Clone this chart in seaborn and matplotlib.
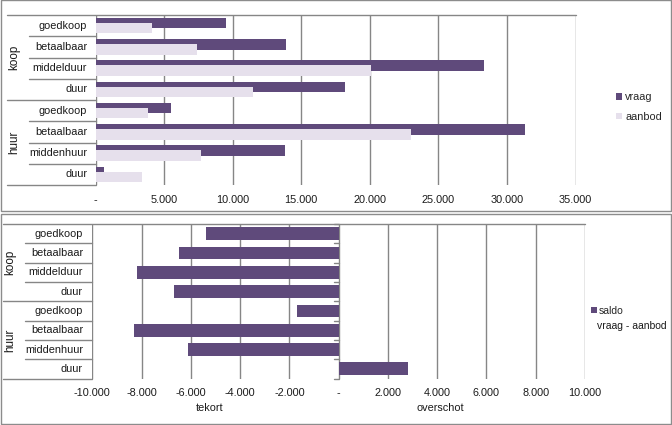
import matplotlib
matplotlib.use("Agg")
import matplotlib.pyplot as plt
import seaborn as sns
import pandas as pd
from matplotlib.lines import Line2D
from matplotlib.patches import Rectangle

# ---------------- data ----------------
groups = ["koop", "huur"]
categories = ["goedkoop", "betaalbaar", "middelduur", "duur",
              "goedkoop", "betaalbaar", "middenhuur", "duur"]
cat_keys = ["koop goedkoop", "koop betaalbaar", "koop middelduur", "koop duur",
            "huur goedkoop", "huur betaalbaar", "huur middenhuur", "huur duur"]
vraag = [9500, 13900, 28300, 18200, 5500, 31300, 13800, 600]
aanbod = [4100, 7400, 20100, 11500, 3800, 23000, 7700, 3400]
saldo = [-5400, -6500, -8200, -6700, -1700, -8300, -6100, 2800]
series_names = ["vraag", "aanbod"]
saldo_name = ["saldo", "vraag - aanbod"]
top_ticks = [0, 5000, 10000, 15000, 20000, 25000, 30000, 35000]
top_ticklabels = ["-", "5.000", "10.000", "15.000", "20.000", "25.000", "30.000", "35.000"]
bot_ticks = [-10000, -8000, -6000, -4000, -2000, 0, 2000, 4000, 6000, 8000, 10000]
bot_ticklabels = ["-10.000", "-8.000", "-6.000", "-4.000", "-2.000", "-",
                  "2.000", "4.000", "6.000", "8.000", "10.000"]

C_DARK = "#5f4a7b"
C_LIGHT = "#e6e0ec"
C_GRID = "#868686"
C_TXT = "#1a1a1a"
FS = 7.8

sns.set_theme(style="white")
plt.rcParams["font.family"] = ["Liberation Sans", "DejaVu Sans"]
plt.rcParams["font.size"] = FS

W, H = 672, 425
fig = plt.figure(figsize=(W / 100, H / 100), dpi=100)


def fx(px):
    return px / W


def fy(py):
    return 1 - py / H


# frames of the two chart boxes
for (x0, y0, x1, y1) in [(0.5, 0.5, 670.5, 211.5), (0.5, 213.5, 670.5, 424.0)]:
    fig.patches.append(Rectangle((fx(x0), fy(y1)), fx(x1 - x0), (y1 - y0) / H,
                                 transform=fig.transFigure, fill=False,
                                 edgecolor="#8c8c8c", lw=1.0))


def add_axes_px(left, top, right, bottom):
    return fig.add_axes([fx(left), fy(bottom), (right - left) / W, (bottom - top) / H])


# ---------------- top chart ----------------
T_L, T_T, T_R, T_B = 95.5, 15, 575.5, 185
ax1 = add_axes_px(T_L, T_T, T_R, T_B)
df = pd.DataFrame({
    "cat": cat_keys * 2,
    "reeks": [series_names[0]] * len(cat_keys) + [series_names[1]] * len(cat_keys),
    "waarde": vraag + aanbod,
})
sns.barplot(data=df, x="waarde", y="cat", hue="reeks", order=cat_keys,
            hue_order=series_names, palette=[C_DARK, C_LIGHT], orient="h",
            width=0.47, gap=-1.13, saturation=1, linewidth=0, ax=ax1, zorder=2)

ax1.set_xlim(0, 35000)
ax1.set_xticks(top_ticks)
ax1.set_xticklabels(top_ticklabels, fontsize=FS, color=C_TXT)
ax1.tick_params(axis="x", length=0, pad=7)
ax1.set_yticks([])
ax1.set_xlabel("")
ax1.set_ylabel("")
for s in ["right", "bottom", "left", "top"]:
    ax1.spines[s].set_visible(False)
for t in top_ticks:
    ax1.axvline(t, color=C_GRID, lw=1.0, zorder=1)


def draw_table(ax, L, Wd, x_group_line, x_cat_line, x_label, x_group):
    trans = ax.get_yaxis_transform()

    def ax_x(px):
        return (px - L) / Wd
    # top line across whole chart
    ax.add_line(Line2D([ax_x(x_group_line), 1.0], [-0.5, -0.5], transform=trans,
                       color=C_GRID, lw=1.0, clip_on=False))
    for b in range(1, len(cat_keys) + 1):
        yb = b - 0.5
        xs = ax_x(x_group_line) if b % 4 == 0 else ax_x(x_cat_line)
        ax.add_line(Line2D([xs, 0], [yb, yb], transform=trans,
                           color=C_GRID, lw=1.0, clip_on=False))
    for i, lab in enumerate(categories):
        ax.text(ax_x(x_label), i, lab, transform=trans, ha="right", va="center",
                fontsize=FS, color=C_TXT)
    for g, lab in enumerate(groups):
        ax.text(ax_x(x_group), g * 4 + 1.5, lab, transform=trans, ha="center",
                va="center", rotation=90, fontsize=FS + 0.6, color=C_TXT)


draw_table(ax1, T_L, T_R - T_L, 7, 29, 87, 14)

h, l = ax1.get_legend_handles_labels()
ax1.legend(h, l, loc="center left", bbox_to_anchor=(fx(612), fy(107)),
           bbox_transform=fig.transFigure, frameon=False, fontsize=FS,
           handlelength=0.55, handleheight=0.55, handletextpad=0.25,
           labelspacing=0.9, borderaxespad=0)

# ---------------- bottom chart ----------------
B_L, B_T, B_R, B_B = 92.3, 224, 585, 378.5
ax2 = add_axes_px(B_L, B_T, B_R, B_B)
df2 = pd.DataFrame({"cat": cat_keys, "saldo": saldo})
sns.barplot(data=df2, x="saldo", y="cat", order=cat_keys, orient="h",
            color=C_DARK, saturation=1, width=0.66, linewidth=0, ax=ax2,
            zorder=2, label=saldo_name[0])
ax2.set_xlim(-10000, 10000)
ax2.set_xticks(bot_ticks)
ax2.set_xticklabels(bot_ticklabels, fontsize=FS, color=C_TXT)
ax2.tick_params(axis="x", length=0, pad=7)
ax2.set_yticks([])
ax2.set_xlabel("")
ax2.set_ylabel("")
for s in ["right", "bottom", "left", "top"]:
    ax2.spines[s].set_visible(False)
for t in bot_ticks:
    ax2.axvline(t, color=C_GRID, lw=1.0, zorder=1)
# small tick marks on the zero axis
ytr = ax2.get_yaxis_transform()
x0ax = (0 - (-10000)) / 20000
for b in range(0, len(cat_keys) + 1):
    ax2.add_line(Line2D([x0ax - 5 / (B_R - B_L), x0ax], [b - 0.5, b - 0.5],
                        transform=ytr, color=C_GRID, lw=1.0, clip_on=False, zorder=3))

draw_table(ax2, B_L, B_R - B_L, 3, 25, 83, 10)

h2, l2 = ax2.get_legend_handles_labels()
ax2.legend(h2, l2, loc="center left", bbox_to_anchor=(fx(587), fy(311)),
           bbox_transform=fig.transFigure, frameon=False, fontsize=7.5,
           handlelength=0.55, handleheight=0.55, handletextpad=0.2,
           borderaxespad=0)
fig.text(fx(597), fy(326), saldo_name[1], ha="left", va="center",
         fontsize=7.5, color=C_TXT)

fig.text(fx(210), fy(408), "tekort", ha="center", va="center", fontsize=FS, color=C_TXT)
fig.text(fx(440), fy(408), "overschot", ha="center", va="center", fontsize=FS, color=C_TXT)

fig.savefig("out.png", dpi=100)
